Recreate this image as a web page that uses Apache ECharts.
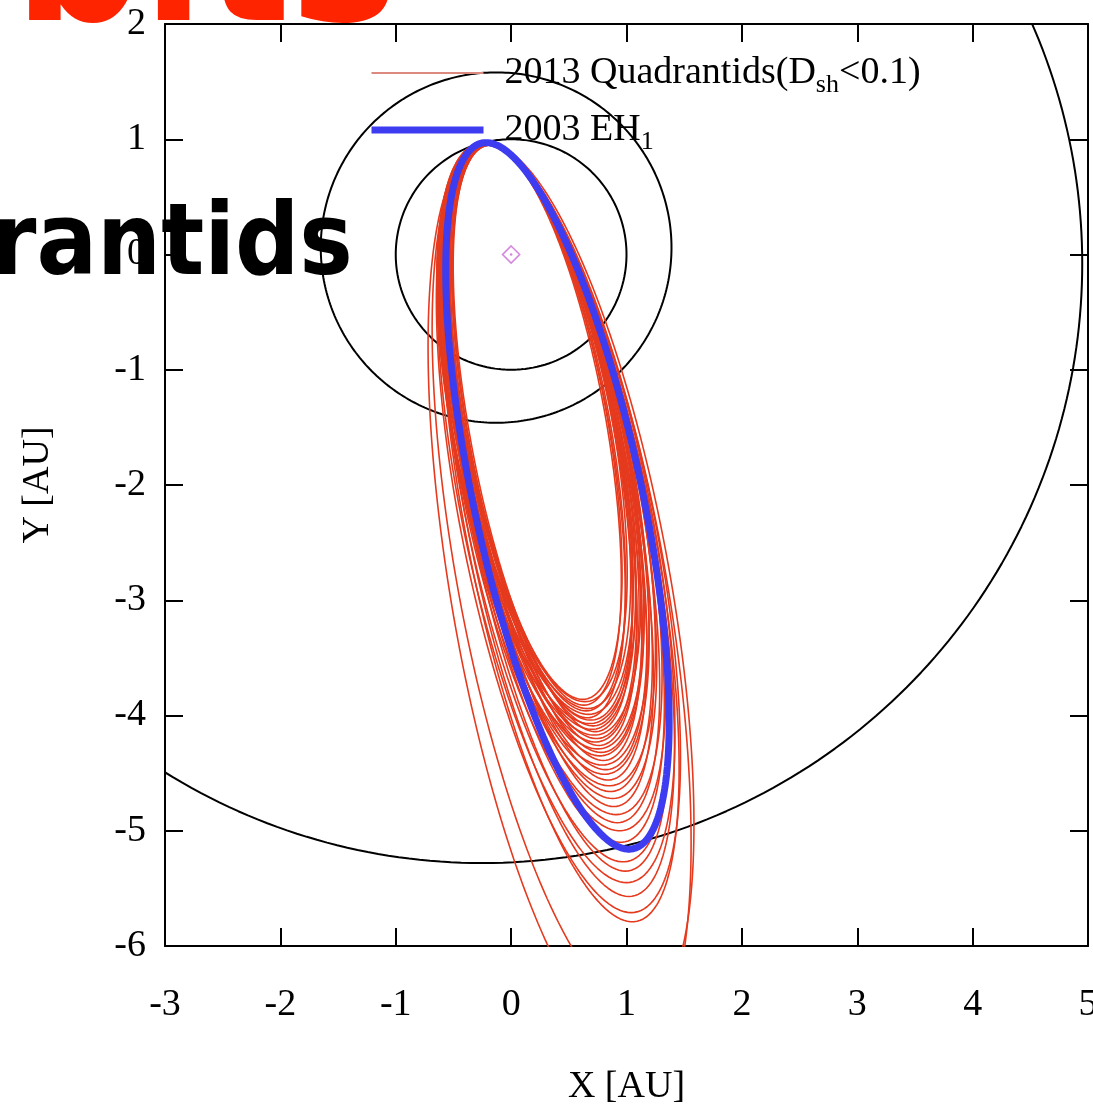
<!DOCTYPE html>
<html>
<head>
<meta charset="utf-8">
<script src="https://cdn.jsdelivr.net/npm/echarts@6/dist/echarts.min.js"></script>
<style>
  html, body { margin: 0; padding: 0; background: #fff; }
  #chart { width: 1093px; height: 1117px; }
</style>
</head>
<body>
<div id="chart"></div>
<script>
// Axis ranges and ticks (AU)
const X_TICKS = [-3, -2, -1, 0, 1, 2, 3, 4, 5];
const Y_TICKS = [-6, -5, -4, -3, -2, -1, 0, 1, 2];

// Planet orbits projected on the ecliptic: centre (AU) and radius (AU)
const PLANET_NAMES = ['Earth', 'Mars', 'Jupiter'];
const PLANET_CX = [0.00, -0.13, -0.25];
const PLANET_CY = [0.00, 0.06, -0.08];
const PLANET_R = [1.00, 1.52, 5.20];

// 2013 Quadrantid meteoroid orbits (projected): perihelion-side extreme point,
// aphelion-side extreme point and half width across the orbit (AU)
const QUAD_X_TOP = [-0.20, -0.22, -0.19, -0.23, -0.20, -0.24, -0.18, -0.21, -0.24, -0.19, -0.22, -0.18, -0.23, -0.20, -0.22, -0.18, -0.24, -0.20, -0.21, -0.18, -0.23, -0.20, -0.22, -0.19, -0.23, -0.20, -0.21, -0.19, -0.22, -0.20, -0.22, -0.20, -0.21, -0.19, -0.22, -0.20, -0.22, -0.20, -0.20, -0.21];
const QUAD_Y_TOP = [0.95, 0.96, 0.95, 0.96, 0.97, 0.96, 0.95, 0.96, 0.97, 0.96, 0.95, 0.96, 0.97, 0.96, 0.96, 0.95, 0.97, 0.96, 0.96, 0.95, 0.97, 0.96, 0.96, 0.95, 0.97, 0.96, 0.96, 0.95, 0.97, 0.96, 0.96, 0.96, 0.96, 0.95, 0.97, 0.96, 0.96, 0.95, 0.96, 0.95];
const QUAD_X_BOT = [0.62, 0.64, 0.63, 0.66, 0.65, 0.67, 0.66, 0.69, 0.68, 0.71, 0.70, 0.73, 0.72, 0.74, 0.73, 0.76, 0.75, 0.78, 0.77, 0.80, 0.79, 0.82, 0.81, 0.84, 0.85, 0.86, 0.88, 0.89, 0.91, 0.92, 0.94, 0.95, 0.97, 0.99, 1.00, 1.02, 1.04, 1.05, 1.10, 1.05];
const QUAD_Y_BOT = [-3.86, -3.88, -3.91, -3.94, -3.96, -3.99, -4.02, -4.04, -4.07, -4.09, -4.12, -4.14, -4.17, -4.20, -4.23, -4.26, -4.29, -4.32, -4.35, -4.39, -4.43, -4.47, -4.51, -4.56, -4.61, -4.66, -4.72, -4.79, -4.86, -4.93, -5.00, -5.10, -5.27, -5.35, -5.45, -5.57, -5.71, -5.79, -6.55, -6.85];
const QUAD_HALF_W = [0.63, 0.67, 0.61, 0.69, 0.64, 0.71, 0.62, 0.68, 0.73, 0.65, 0.70, 0.63, 0.74, 0.67, 0.71, 0.65, 0.75, 0.69, 0.72, 0.66, 0.76, 0.70, 0.74, 0.68, 0.77, 0.72, 0.75, 0.70, 0.78, 0.74, 0.79, 0.76, 0.80, 0.77, 0.83, 0.80, 0.85, 0.82, 0.93, 0.95];

// 2003 EH1 orbit (projected)
const EH1_X_TOP = -0.217, EH1_Y_TOP = 0.971;
const EH1_X_BOT = 1.02, EH1_Y_BOT = -5.16;
const EH1_HALF_W = 0.745;

// The Sun
const SUN = [[0, 0]];

const QUAD_NAME = '2013 Quadrantids(Dsh<0.1)';
const EH1_NAME = '2003 EH1';

const SERIF = "'Liberation Serif', 'Times New Roman', serif";
const STEPS = 360;

// Ellipse through the two extreme points with the given half width
function orbitPath(xT, yT, xB, yB, w) {
  const cx = (xT + xB) / 2, cy = (yT + yB) / 2;
  const dx = (xT - xB) / 2, dy = (yT - yB) / 2;
  const pts = [];
  for (let i = 0; i <= STEPS; i++) {
    const t = 2 * Math.PI * i / STEPS;
    pts.push([cx + dx * Math.sin(t) + w * Math.cos(t), cy + dy * Math.sin(t)]);
  }
  return pts;
}

function circlePath(cx, cy, r) {
  const pts = [];
  for (let i = 0; i <= STEPS; i++) {
    const t = 2 * Math.PI * i / STEPS;
    pts.push([cx + r * Math.cos(t), cy + r * Math.sin(t)]);
  }
  return pts;
}

const series = [];

PLANET_NAMES.forEach((name, i) => {
  series.push({
    id: 'planet-' + name,
    type: 'line',
    data: circlePath(PLANET_CX[i], PLANET_CY[i], PLANET_R[i]),
    showSymbol: false,
    symbol: 'none',
    clip: true,
    silent: true,
    lineStyle: { color: '#000', width: 2 },
    z: 2
  });
});

QUAD_Y_BOT.forEach((yb, i) => {
  series.push({
    name: QUAD_NAME,
    type: 'line',
    data: orbitPath(QUAD_X_TOP[i], QUAD_Y_TOP[i], QUAD_X_BOT[i], yb, QUAD_HALF_W[i]),
    showSymbol: false,
    symbol: 'none',
    clip: true,
    color: '#e53a1e',
    lineStyle: { color: '#e53a1e', width: 1.6 },
    z: 3
  });
});

series.push({
  name: EH1_NAME,
  type: 'line',
  data: orbitPath(EH1_X_TOP, EH1_Y_TOP, EH1_X_BOT, EH1_Y_BOT, EH1_HALF_W),
  showSymbol: false,
  symbol: 'none',
  clip: true,
  color: '#3d3cf0',
  lineStyle: { color: '#3d3cf0', width: 7 },
  z: 4
});

series.push({
  id: 'sun',
  type: 'scatter',
  data: SUN,
  symbol: 'diamond',
  symbolSize: [17, 17],
  itemStyle: { color: 'rgba(0,0,0,0)', borderColor: '#cc66d8', borderWidth: 1.6 },
  z: 5
});
series.push({
  id: 'sun-dot',
  type: 'scatter',
  data: SUN,
  symbol: 'circle',
  symbolSize: 2.5,
  itemStyle: { color: '#cc66d8' },
  z: 5
});

const axisCommon = {
  type: 'value',
  interval: 1,
  splitLine: { show: false },
  axisLine: { show: true, onZero: false, lineStyle: { color: '#000', width: 2 } },
  axisTick: { show: true, inside: true, length: 18, lineStyle: { color: '#000', width: 2 } }
};

const option = {
  animation: false,
  backgroundColor: '#fff',
  grid: { left: 165, right: 5, top: 24, bottom: 171, containLabel: false, outerBoundsMode: 'none' },
  xAxis: [
    Object.assign({}, axisCommon, {
      min: X_TICKS[0], max: X_TICKS[X_TICKS.length - 1], position: 'bottom',
      axisLabel: { show: true, margin: 40, color: '#000', fontFamily: SERIF, fontSize: 38 },
      name: 'X [AU]', nameLocation: 'middle', nameGap: 122,
      nameTextStyle: { color: '#000', fontFamily: SERIF, fontSize: 38 }
    }),
    Object.assign({}, axisCommon, {
      min: X_TICKS[0], max: X_TICKS[X_TICKS.length - 1], position: 'top',
      axisLabel: { show: false }
    })
  ],
  yAxis: [
    Object.assign({}, axisCommon, {
      min: Y_TICKS[0], max: Y_TICKS[Y_TICKS.length - 1], position: 'left',
      axisLabel: { show: true, margin: 19, color: '#000', fontFamily: SERIF, fontSize: 38 },
      name: 'Y [AU]', nameLocation: 'middle', nameGap: 108,
      nameTextStyle: { color: '#000', fontFamily: SERIF, fontSize: 38 }
    }),
    Object.assign({}, axisCommon, {
      min: Y_TICKS[0], max: Y_TICKS[Y_TICKS.length - 1], position: 'right',
      axisLabel: { show: false }
    })
  ],
  legend: {
    orient: 'vertical',
    left: 363,
    top: 43,
    itemWidth: 112,
    itemHeight: 20,
    itemGap: 7,
    data: [
      { name: QUAD_NAME, itemStyle: { opacity: 0 }, lineStyle: { color: '#dc8a80', width: 2 } },
      { name: EH1_NAME, itemStyle: { opacity: 0 }, lineStyle: { color: '#3d3cf0', width: 7 } }
    ],
    formatter: function (name) {
      if (name === QUAD_NAME) return '2013 Quadrantids(D{sub|sh}<0.1)';
      return '2003 EH{sub|1}';
    },
    textStyle: {
      color: '#000', fontFamily: SERIF, fontSize: 38, lineHeight: 50,
      padding: [0, 0, 0, 16],
      rich: {
        sub: { color: '#000', fontFamily: SERIF, fontSize: 26, lineHeight: 20, verticalAlign: 'bottom' }
      }
    }
  },
  graphic: [
    {
      type: 'text', z: 100, silent: true,
      style: { text: 'bits', x: 14, y: -32, fill: '#ff2400', font: "bold 200px 'DejaVu Sans Condensed', 'DejaVu Sans'", verticalAlign: 'middle' }
    },
    {
      type: 'text', z: 100, silent: true,
      style: { text: 'rantids', x: -8, y: 248, fill: '#000', font: "bold 100px 'DejaVu Sans Condensed', 'DejaVu Sans'", verticalAlign: 'middle' }
    }
  ],
  series: series
};

const chart = echarts.init(document.getElementById('chart'), null, { renderer: 'canvas' });
chart.setOption(option);
</script>
</body>
</html>
